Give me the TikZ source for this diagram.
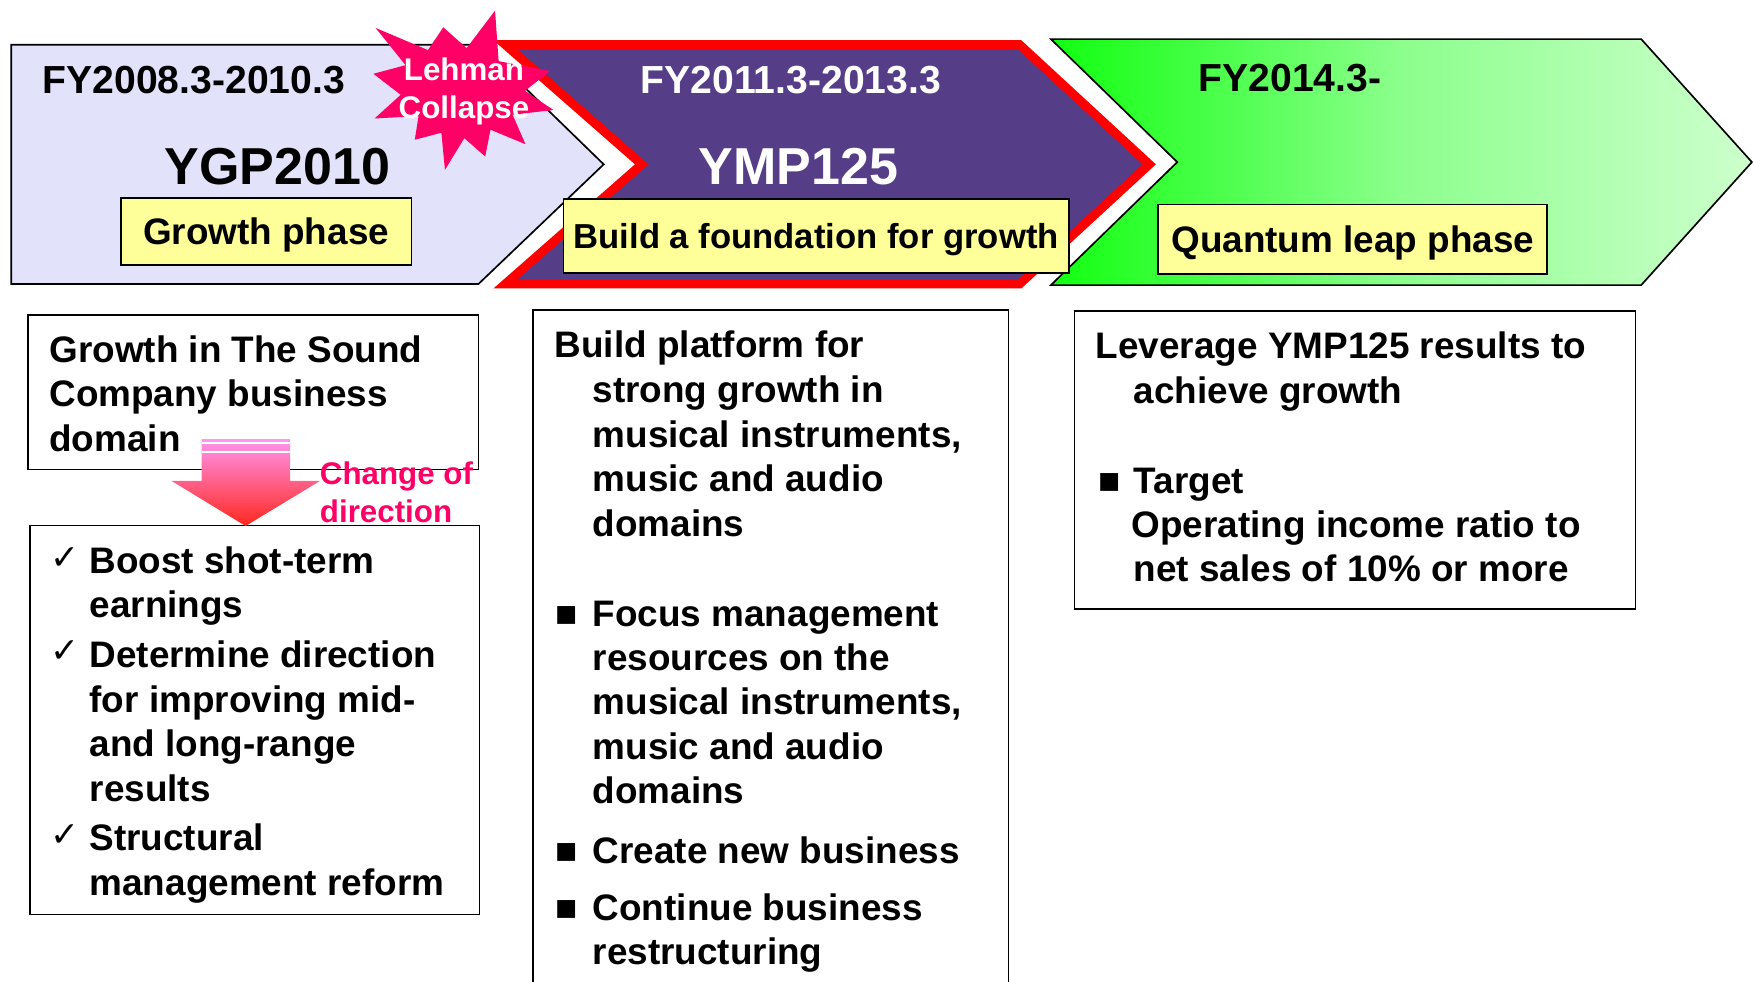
\documentclass[tikz,border=0pt]{standalone}
\usepackage{fontspec}
\setmainfont{Liberation Sans}
\newfontfamily\symfont{DejaVu Sans}
\definecolor{lav}{RGB}{226,226,250}
\definecolor{purp}{RGB}{85,61,136}
\definecolor{redb}{RGB}{255,0,0}
\definecolor{pinkstar}{RGB}{255,0,102}
\definecolor{yel}{RGB}{255,255,153}
\definecolor{gleft}{RGB}{17,255,17}
\definecolor{gmid}{RGB}{140,255,140}
\definecolor{gright}{RGB}{205,255,205}
\definecolor{arrtop}{RGB}{255,150,240}
\definecolor{arrbot}{RGB}{255,40,30}
\begin{document}
\begin{tikzpicture}[x=1pt,y=-1pt,
  txt/.style={anchor=base west,inner sep=0pt,font=\fontsize{33}{40}\selectfont\bfseries},
  fylabel/.style={anchor=base west,inner sep=0pt,font=\fontsize{35}{40}\selectfont\bfseries},
  biglabel/.style={anchor=base west,inner sep=0pt,font=\fontsize{46.5}{50}\selectfont\bfseries},
  startxt/.style={anchor=base,inner sep=0pt,text=white,font=\fontsize{28}{32}\selectfont\bfseries},
  pinktxt/.style={anchor=base west,inner sep=0pt,text=pinkstar,font=\fontsize{28}{32}\selectfont\bfseries},
  yelbox/.style={draw=black,line width=1.5pt,fill=yel,inner sep=0pt,text height=24pt,text depth=0pt,font=\fontsize{33}{40}\selectfont\bfseries},
  chk/.style={anchor=base west,inner sep=0pt,font=\fontsize{31}{34}\selectfont\symfont},
  bul/.style={anchor=base west,inner sep=0pt,font=\fontsize{33}{40}\selectfont\bfseries},
  frame/.style={draw=black,line width=1.5pt},
]
\useasboundingbox (0,0) rectangle (1568,878);
\fill[white] (0,0) rectangle (1568,878);

% ---- chevrons ----
\draw[frame,fill=lav] (10,40) -- (430,40) -- (540,147) -- (428,254) -- (10,254) -- cycle;
\draw[line width=8pt,draw=redb,fill=purp,miter limit=4] (452,40) -- (912,40) -- (1028,147) -- (912,254) -- (452,254) -- (574,147) -- cycle;
\draw[frame,left color=gleft,right color=gright,middle color=gmid] (940,35) -- (1468,35) -- (1567,145) -- (1468,255) -- (940,255) -- (1053,145) -- cycle;

% ---- starburst ----
\fill[pinkstar] (442.8,9.5) -- (446,54.7) -- (492,63.5) -- (469.6,81.3) -- (495,98.4) -- (458.5,102.6)
  -- (470,129) -- (438.7,116) -- (434,140) -- (415.3,123.6) -- (398,152) -- (394.8,118.7)
  -- (371,125) -- (374.4,103.8) -- (335,106) -- (358.4,84.8) -- (334,66) -- (362.7,58.3)
  -- (336,25) -- (382.8,44.8) -- (396.5,24.4) -- (417.4,43) -- cycle;
\node[startxt] (lehman) at (415,72) {Lehman};
\node[startxt] (collapse) at (415,106) {Collapse};

% ---- top labels ----
\node[fylabel] (fy1) at (38,84) {FY2008.3-2010.3};
\node[biglabel] (ygp) at (147,165) {YGP2010};
\node[fylabel,text=white] (fy2) at (573,84) {FY2011.3-2013.3};
\node[biglabel,text=white] (ymp) at (625,165) {YMP125};
\node[fylabel] (fy3) at (1072,82) {FY2014.3-};

\node[yelbox,minimum width=260pt,minimum height=60pt] (gphase) at (238,207) {Growth phase};
\node[yelbox,minimum width=452pt,minimum height=66pt,text height=22.5pt,font=\fontsize{31}{40}\selectfont\bfseries] (bphase) at (730,211) {Build a foundation for growth};
\node[yelbox,minimum width=348pt,minimum height=62pt] (qphase) at (1210,214) {Quantum leap phase};

% ---- lower boxes ----
\draw[frame] (25,282) rectangle (428,420);
\draw[frame] (27,470) rectangle (429,818);
\draw[frame] (477,890) -- (477,277) -- (902,277) -- (902,890);
\draw[frame] (961,278) rectangle (1463,545);

% box 1
\node[txt] (a1) at (44,324) {Growth in The Sound};
\node[txt] (a2) at (44,364) {Company business};
\node[txt] (a3) at (44,404) {domain};

% pink arrow
\shade[top color=arrtop,bottom color=arrbot] (180.4,392.7) -- (259.4,392.7) -- (259.4,430.2) -- (286.2,430.2)
  -- (219.7,470.5) -- (153.5,430.2) -- (180.4,430.2) -- cycle;
\fill[white] (180.4,395.6) rectangle (259.4,397.2);
\fill[white] (180.4,403.1) rectangle (259.4,404.9);
\node[pinktxt] (chg1) at (286,433) {Change of};
\node[pinktxt] (chg2) at (286,467) {direction};

% box 2
\node[chk] (c1) at (45,509) {✓};
\node[txt] (b1) at (80,513) {Boost shot-term};
\node[txt] (b2) at (80,552) {earnings};
\node[chk] (c2) at (45,593) {✓};
\node[txt] (b3) at (80,597) {Determine direction};
\node[txt] (b4) at (80,637) {for improving mid-};
\node[txt] (b5) at (80,677) {and long-range};
\node[txt] (b6) at (80,717) {results};
\node[chk] (c3) at (45,757) {✓};
\node[txt] (b7) at (80,761) {Structural};
\node[txt] (b8) at (80,801) {management reform};

% middle box
\node[txt] (m1) at (496,320) {Build platform for};
\node[txt] (m2) at (530,360) {strong growth in};
\node[txt] (m3) at (530,400) {musical instruments,};
\node[txt] (m4) at (530,440) {music and audio};
\node[txt] (m5) at (530,480) {domains};
\node[bul] (s1) at (497,560) {■};
\node[txt] (m6) at (530,560) {Focus management};
\node[txt] (m7) at (530,600) {resources on the};
\node[txt] (m8) at (530,639) {musical instruments,};
\node[txt] (m9) at (530,679) {music and audio};
\node[txt] (m10) at (530,719) {domains};
\node[bul] (s2) at (497,772) {■};
\node[txt] (m11) at (530,772) {Create new business};
\node[bul] (s3) at (497,823) {■};
\node[txt] (m12) at (530,823) {Continue business};
\node[txt] (m13) at (530,863) {restructuring};

% right box
\node[txt] (r1) at (980,321) {Leverage YMP125 results to};
\node[txt] (r2) at (1014,361) {achieve growth};
\node[bul] (s4) at (982,441) {■};
\node[txt] (r3) at (1014,441) {Target};
\node[txt] (r4) at (1012,481) {Operating income ratio to};
\node[txt] (r5) at (1014,520) {net sales of 10\% or more};
\end{tikzpicture}
\end{document}
